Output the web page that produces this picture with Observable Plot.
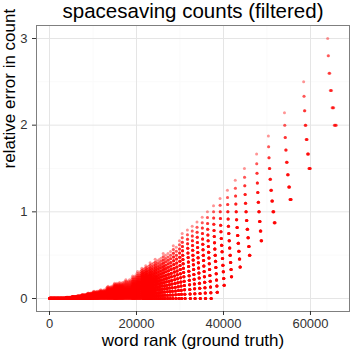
<!DOCTYPE html>
<html><head><meta charset="utf-8">
<script src="https://cdn.jsdelivr.net/npm/d3@7"></script>
<script src="https://cdn.jsdelivr.net/npm/@observablehq/plot@0.6"></script>
<style>body{margin:0;background:#fff}</style>
</head><body><div id="chart"></div>
<script>
// true word count of each group of words (ground truth), read from the columns of points
const counts   = [5,6,7,8,9,10,11,12,13,14,15,16,17,18,19,20,
                  21,22,23,24,25,26,27,28,29,30,31,32,33,34,35,36,37,38,39,40,
                  45,50,60,70,80,100,130,170,220,300,400,600,1000,3000];
// rank range (ground truth rank) occupied by each group
const rankFrom = [63900,58400,54000,50300,47600,44800,42700,40900,39200,37700,36300,35100,33900,32800,31700,30500,
                  29870,29140,28460,27820,27230,26670,26140,25640,25170,24720,24290,23890,23500,23130,22780,22440,22120,21810,21510,21230,
                  19940,18860,17120,15780,14700,13060,11360,9860,8600,7300,6260,5050,3850,0];
const rankTo   = [66000,60000,55600,51900,48800,46100,43900,41900,40200,38600,37200,35900,34700,33500,32400,31200,
                  30400,29800,29100,28400,27800,27200,26600,26100,25600,25150,24700,24280,23880,23490,23120,22770,22430,22110,21800,21500,
                  21220,19930,18850,17110,15770,14690,13050,11350,9850,8590,7290,6250,5040,3840];
// smallest and largest absolute over-count seen in each group
const errMin   = [10,9,8,7,6,5,4,3,2,1,0,0,0,0,0,0,
                  0,0,0,0,0,0,0,0,0,0,0,0,0,0,0,0,0,0,0,0,
                  0,0,0,0,0,0,0,0,0,0,0,0,0,0];
const errMax   = [15,15,15,15,15,15,15,15,15,15,15,15,15,15,15,15,
                  14,13,14,13,13,13,14,13,13,13,14,13,13,14,13,13,14,13,13,14,
                  14,13,13,13,14,14,13,14,14,14,14,14,15,15];
const xTicks = [0, 20000, 40000, 60000];
const xMinor = [10000, 30000, 50000];
const yTicks = [0, 1, 2, 3];
const yMinor = [0.5, 1.5, 2.5];
const titleText = "spacesaving counts (filtered)";
const xTitle = "word rank (ground truth)";
const yTitle = "relative error in count";

// one point per word: relative error = over-count / true count
const points = [];
counts.forEach((c, i) => {
  const lo = errMin[i], hi = errMax[i];
  const single = i === 0 || c - counts[i - 1] === 1;
  const span = rankTo[i] - rankFrom[i];
  const scale = single ? 1 : Math.max(1, Math.round(span / 700));
  const w = [];
  for (let e = hi; e >= lo; e--) w.push(Math.min(hi - e + 1, 8) * scale);
  const total = d3.sum(w);
  let cum = 0;
  w.forEach((n, j) => {
    const e = hi - j;
    for (let k = 0; k < n; k++) {
      const rank = single ? rankFrom[i] + span * (cum + k + 0.5) / total
                          : rankFrom[i] + span * (k + 0.5) / n;
      points.push({rank, err: e / c});
    }
    cum += n;
  });
});

const font = "'Liberation Sans', Arial, sans-serif";
const chart = Plot.plot({
  width: 350, height: 354,
  marginLeft: 36, marginRight: 1, marginTop: 25, marginBottom: 43,
  style: {fontFamily: font, background: "#fff", overflow: "visible"},
  x: {domain: [-2990, 68970]},
  y: {domain: [-0.15, 3.15]},
  marks: [
    Plot.gridX(xMinor, {stroke: "#fafafa", strokeOpacity: 1}),
    Plot.gridY(yMinor, {stroke: "#fafafa", strokeOpacity: 1}),
    Plot.gridX(xTicks, {stroke: "#e5e5e5", strokeOpacity: 1}),
    Plot.gridY(yTicks, {stroke: "#e5e5e5", strokeOpacity: 1}),
    Plot.dot(points, {x: "rank", y: "err", r: 1.5, fill: "#ff0000", fillOpacity: 0.42, stroke: null}),
    Plot.frame({stroke: "#7f7f7f"}),
    Plot.axisX(xTicks, {tickSize: 4, tickPadding: 3, fontSize: 13, tickFormat: d => String(d), label: null, stroke: "#333", fill: "#333"}),
    Plot.axisY(yTicks, {tickSize: 4, tickPadding: 5, fontSize: 13, tickFormat: d => String(d), label: null, stroke: "#333", fill: "#333"}),
    Plot.text([xTitle], {frameAnchor: "bottom", dy: 34, lineAnchor: "bottom", fontSize: 17, fill: "#000", text: d => d}),
    Plot.text([yTitle], {frameAnchor: "left", dx: -22, rotate: -90, lineAnchor: "bottom", fontSize: 17, fill: "#000", text: d => d}),
    Plot.text([titleText], {frameAnchor: "top", dy: -8, lineAnchor: "bottom", fontSize: 20.5, fill: "#000", text: d => d})
  ]
});
document.getElementById("chart").append(chart);
</script>
</body></html>
